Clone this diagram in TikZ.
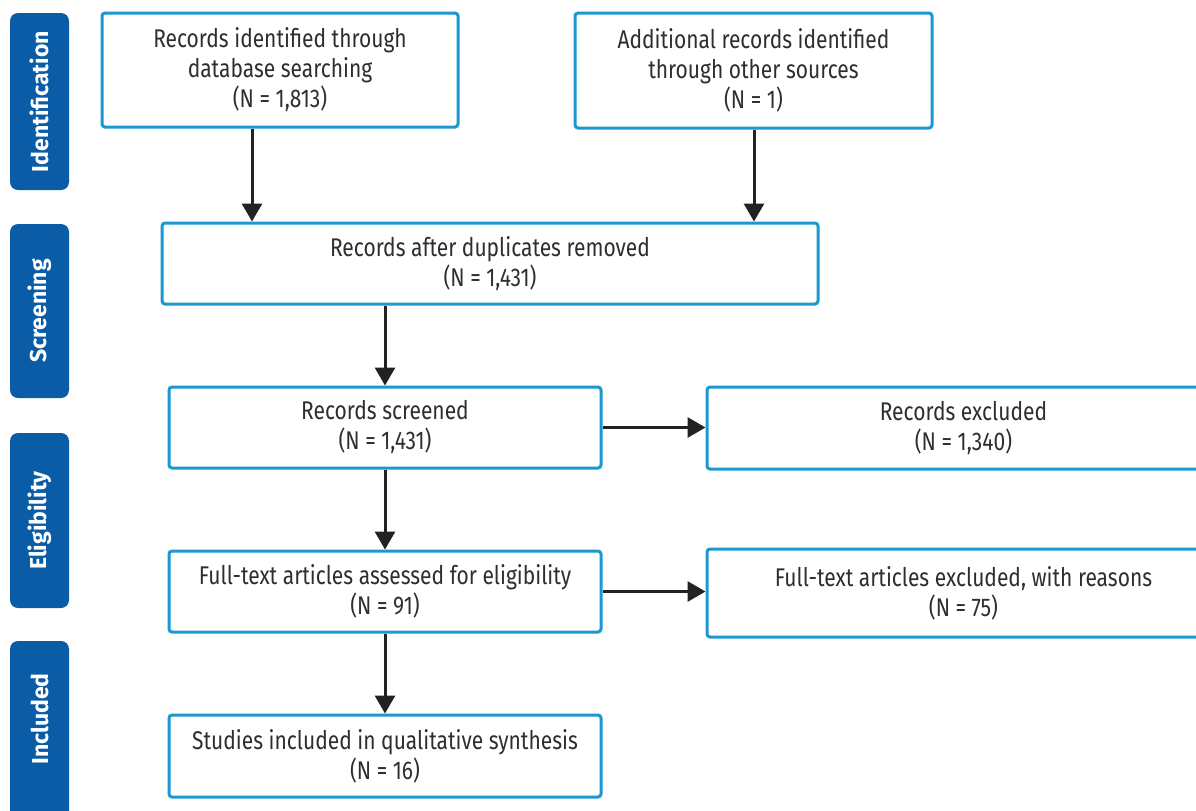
\documentclass[tikz,border=0pt]{standalone}
\usepackage{fontspec}
\setmainfont{Fira Sans}[FakeStretch=0.82]
\newfontfamily\barfont{Fira Sans}
\usetikzlibrary{arrows.meta}
\definecolor{boxblue}{HTML}{1B98CF}
\definecolor{barblue}{HTML}{0B5CA6}
\definecolor{txtgray}{HTML}{2E2E2E}
\definecolor{arrowgray}{HTML}{222222}
\begin{document}
\begin{tikzpicture}[x=0.5pt,y=-0.5pt,
  flowbox/.style={draw=boxblue, line width=1.5pt, rounded corners=1.5pt, fill=white,
    align=center, text=txtgray, font=\fontsize{12.8}{15}\selectfont, inner sep=0pt},
  sidebar/.style={fill=barblue, rounded corners=4pt, text=white, inner sep=0pt,
    font=\barfont\bfseries\fontsize{11.5}{13}\selectfont},
  flowarrow/.style={draw=arrowgray, line width=1.5pt, -{Triangle[width=10pt,length=9pt]}}
]
\useasboundingbox (0,0) rectangle (1196,810);
\clip (0,0) rectangle (1196,810);
\fill[white] (0,0) rectangle (1196,810);

% side bars
\node[sidebar, minimum width=29.5pt, minimum height=88.5pt] (sid) at (39.5,101.5) {\rotatebox{90}{Identification}};
\node[sidebar, minimum width=29.5pt, minimum height=87pt] (sscr) at (39.5,311) {\rotatebox{90}{Screening}};
\node[sidebar, minimum width=29.5pt, minimum height=87.5pt] (selg) at (39.5,520.5) {\rotatebox{90}{Eligibility}};
\node[sidebar, minimum width=29.5pt, minimum height=94.5pt] (sinc) at (39.5,735.5) {};
\node[text=white, font=\barfont\bfseries\fontsize{11.5}{13}\selectfont] (sinct) at (39.5,719) {\rotatebox{90}{Included}};

% boxes
\node[flowbox, minimum width=178pt, minimum height=57pt] (db) at (280,70)
  {Records identified through\\database searching\\(N = 1,813)};
\node[flowbox, minimum width=178.5pt, minimum height=57.5pt] (other) at (753.5,70.5)
  {Additional records identified\\through other sources\\(N = 1)};
\node[flowbox, minimum width=328pt, minimum height=40.5pt] (dup) at (490,263.5)
  {Records after duplicates removed\\(N = 1,431)};
\node[flowbox, minimum width=216pt, minimum height=40.5pt] (scr) at (385,427.5)
  {Records screened\\(N = 1,431)};
\node[flowbox, minimum width=256.5pt, minimum height=41pt] (exc) at (963.5,428)
  {Records excluded\\(N = 1,340)};
\node[flowbox, minimum width=216pt, minimum height=40.5pt] (full) at (385,591.5)
  {Full-text articles assessed for eligibility\\(N = 91)};
\node[flowbox, minimum width=256.5pt, minimum height=44pt] (fexc) at (963.5,593)
  {Full-text articles excluded, with reasons\\(N = 75)};
\node[flowbox, minimum width=216pt, minimum height=41pt] (inc) at (385,756)
  {Studies included in qualitative synthesis\\(N = 16)};

% arrows
\draw[flowarrow] (db.south -| 252,0) -- (dup.north -| 252,0);
\draw[flowarrow] (other.south -| 754,0) -- (dup.north -| 754,0);
\draw[flowarrow] (dup.south -| scr.north) -- (scr.north);
\draw[flowarrow] (scr.east) -- (scr.east -| exc.west);
\draw[flowarrow] (scr.south) -- (full.north);
\draw[flowarrow] (full.east) -- (full.east -| fexc.west);
\draw[flowarrow] (full.south) -- (inc.north);
\end{tikzpicture}
\end{document}
